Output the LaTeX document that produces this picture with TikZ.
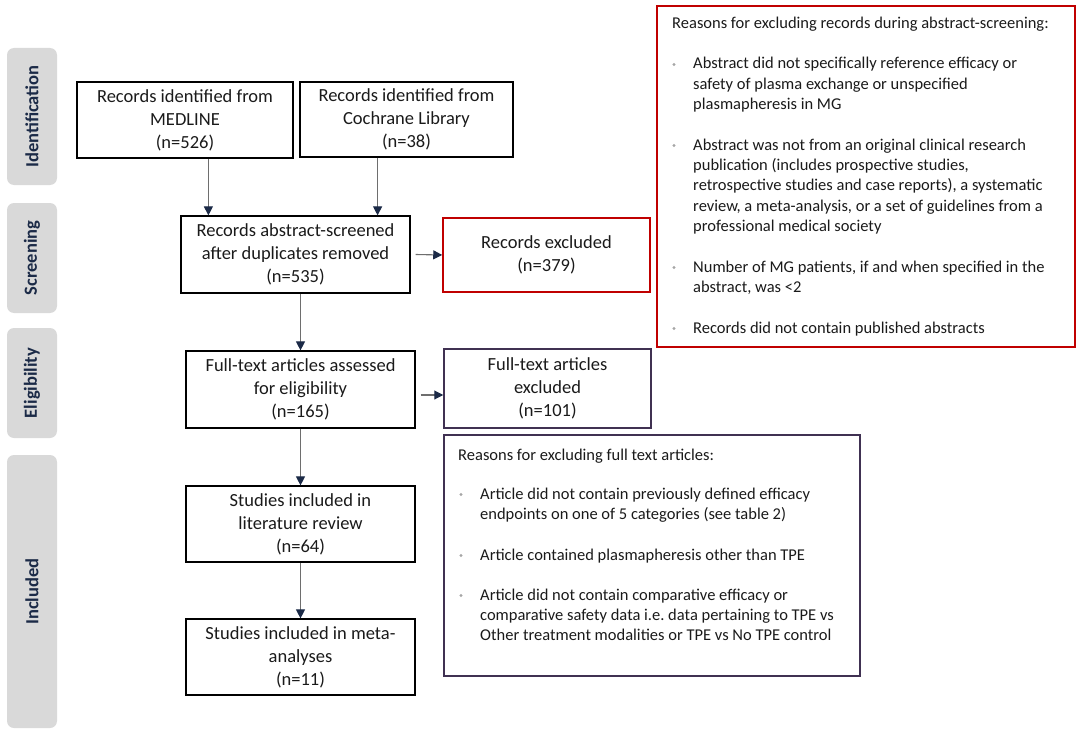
\documentclass[tikz,border=0pt]{standalone}
\usepackage{fontspec}
\setmainfont{Carlito}
\usetikzlibrary{arrows.meta,calc}
\definecolor{navyc}{HTML}{1B2A47}
\definecolor{linec}{HTML}{6E6E6E}
\definecolor{redc}{HTML}{C00000}
\definecolor{purc}{HTML}{403152}
\definecolor{phasec}{HTML}{D9D9D9}
\definecolor{txtc}{HTML}{1A1A1A}
\definecolor{bulc}{HTML}{A6A6A6}
\frenchspacing
\begin{document}
\begin{tikzpicture}[x=1pt,y=-1pt,
  box/.style={draw=black, line width=1.2pt, inner sep=0pt, align=center,
    text=txtc, font=\fontsize{18.5}{23}\selectfont},
  redbox/.style={box, draw=redc, line width=1.5pt},
  purbox/.style={box, draw=purc, line width=1.5pt},
  phase/.style={fill=phasec, rounded corners=7pt, rotate=90, minimum height=50pt,
    inner sep=0pt, text=navyc, font=\fontsize{18.5}{20}\bfseries\selectfont},
  reason/.style={anchor=base west, align=left, inner sep=0pt, text=txtc,
    font=\fontsize{16.5}{20.4}\selectfont},
  dot/.style={circle, fill=bulc, minimum size=3.4pt, inner sep=0pt},
  arr/.style={draw=linec, line width=1.1pt,
    -{Triangle[width=9pt,length=9pt,color=navyc]}}
]
\useasboundingbox (0,0) rectangle (1084,733);

% phase labels
\node[phase, minimum width=137pt] (pid) at (32,116.5) {Identification};
\node[phase, minimum width=110pt] (psc) at (32,258) {Screening};
\node[phase, minimum width=110pt] (pel) at (32,383) {Eligibility};
\node[phase, minimum width=273pt] (pin) at (32,591.5) {Included};

% flow boxes
\node[box, minimum width=216pt, minimum height=76pt] (medline) at (185,120)
  {Records identified from\\MEDLINE\\(n=526)};
\node[box, minimum width=213pt, minimum height=75pt] (cochrane) at (406.5,119.5)
  {Records identified from\\Cochrane Library\\(n=38)};
\node[box, minimum width=229pt, minimum height=77pt] (screened) at (295.5,254.5)
  {Records abstract-screened\\after duplicates removed\\(n=535)};
\node[redbox, minimum width=207pt, minimum height=74pt] (recexcl) at (546.5,255)
  {Records excluded\\(n=379)};
\node[box, minimum width=229pt, minimum height=77pt] (fulltext) at (300.5,389.5)
  {Full-text articles assessed\\for eligibility\\(n=165)};
\node[purbox, minimum width=207pt, minimum height=79pt] (ftexcl) at (547.5,388.5)
  {Full-text articles\\excluded\\(n=101)};
\node[box, minimum width=229pt, minimum height=76pt] (litrev) at (300.5,524)
  {Studies included in\\literature review\\(n=64)};
\node[box, minimum width=229pt, minimum height=76pt] (meta) at (300.5,657)
  {Studies included in meta-\\analyses\\(n=11)};

% reasons box (abstract screening); multi-line nodes are placed by their last baseline
\node[draw=redc, line width=1.5pt, minimum width=418pt, minimum height=341pt,
  inner sep=0pt] (rsbox) at (866,176.5) {};
\node[reason] (rsh) at (672,29) {Reasons for excluding records during abstract-screening:};
\node[dot] (rsd1) at (674,64.5) {};
\node[reason] (rs1) at (693,109.8) {Abstract did not specifically reference efficacy or\\safety of plasma exchange or unspecified\\plasmapheresis in MG};
\node[dot] (rsd2) at (674,145.5) {};
\node[reason] (rs2) at (693,231.6) {Abstract was not from an original clinical research\\publication (includes prospective studies,\\retrospective studies and case reports), a systematic\\review, a meta-analysis, or a set of guidelines from a\\professional medical society};
\node[dot] (rsd3) at (674,267.5) {};
\node[reason] (rs3) at (693,292.4) {Number of MG patients, if and when specified in the\\abstract, was <2};
\node[dot] (rsd4) at (674,328.5) {};
\node[reason] (rs4) at (693,333) {Records did not contain published abstracts};

% reasons box (full text)
\node[draw=purc, line width=1.5pt, minimum width=416pt, minimum height=241pt,
  inner sep=0pt] (rfbox) at (652,555.5) {};
\node[reason] (rfh) at (458,460) {Reasons for excluding full text articles:};
\node[dot] (rfd1) at (461,494.5) {};
\node[reason] (rf1) at (480,519.4) {Article did not contain previously defined efficacy\\endpoints on one of 5 categories (see table 2)};
\node[dot] (rfd2) at (461,555.5) {};
\node[reason] (rf2) at (480,560) {Article contained plasmapheresis other than TPE};
\node[dot] (rfd3) at (461,595.5) {};
\node[reason] (rf3) at (480,640.8) {Article did not contain comparative efficacy or\\comparative safety data i.e. data pertaining to TPE vs\\Other treatment modalities or TPE vs No TPE control};

% connectors
\draw[arr] ([xshift=28pt]screened.north west |- medline.south) -- ([xshift=28pt]screened.north west);
\draw[arr] ([xshift=-33pt]screened.north east |- cochrane.south) -- ([xshift=-33pt]screened.north east);
\draw[arr] ([xshift=5pt]screened.east) -- (recexcl.west);
\draw[arr] (screened.south -| fulltext.north) -- (fulltext.north);
\draw[arr] ([xshift=5pt,yshift=-5.5pt]fulltext.east) coordinate (fa) -- (fa -| ftexcl.west);
\draw[arr] (fulltext.south) -- (litrev.north);
\draw[arr] (litrev.south) -- (meta.north);
\end{tikzpicture}
\end{document}
